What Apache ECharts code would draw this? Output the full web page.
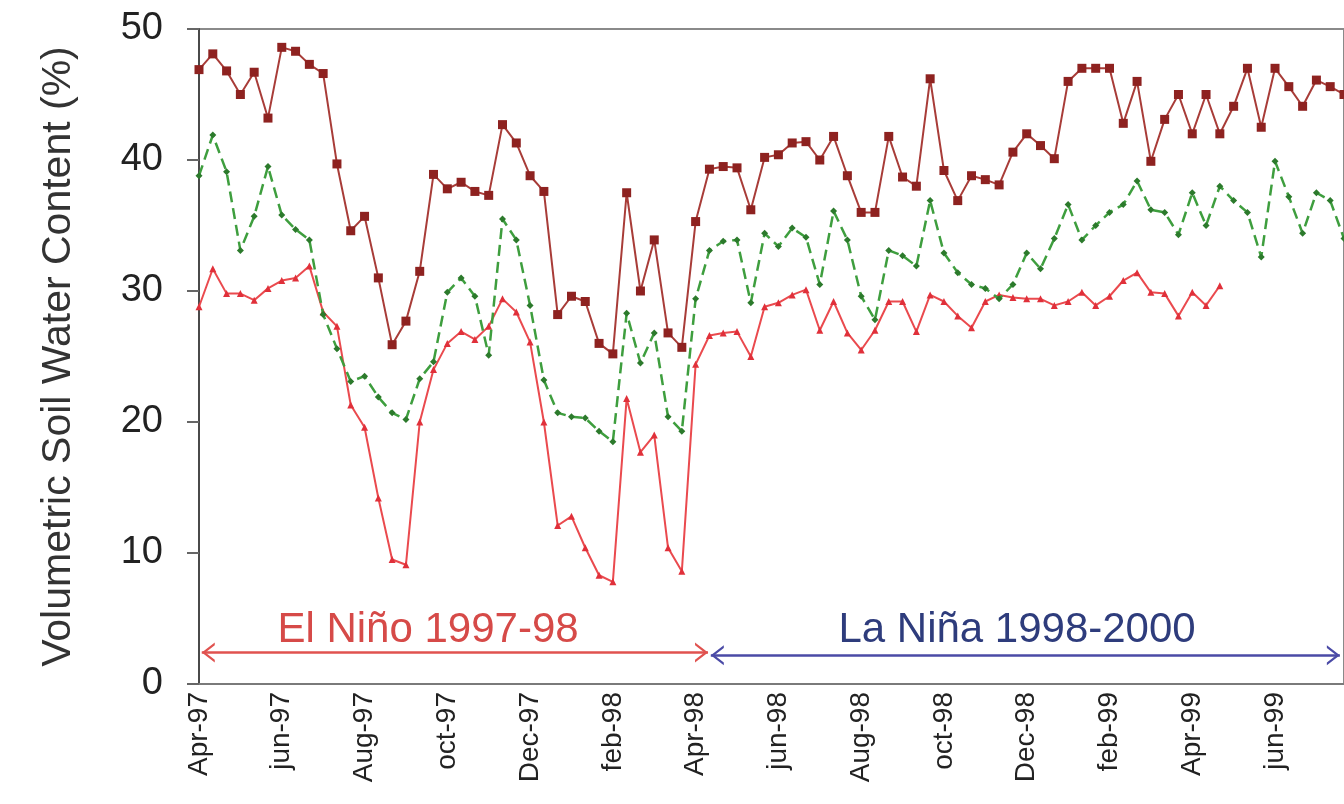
<!DOCTYPE html>
<html>
<head>
<meta charset="utf-8">
<script src="https://cdn.jsdelivr.net/npm/echarts@6/dist/echarts.min.js"></script>
<style>
  html, body { margin: 0; padding: 0; background: #fff; }
  #chart { width: 1344px; height: 804px; }
</style>
</head>
<body>
<div id="chart"></div>
<script>
// Soil water content, one reading per dekad (three per month) from early April 1997.
// Labelled ticks fall every two months (every 6th dekad).
const tickLabels = ['Apr-97', 'jun-97', 'Aug-97', 'oct-97', 'Dec-97', 'feb-98', 'Apr-98',
                    'jun-98', 'Aug-98', 'oct-98', 'Dec-98', 'feb-99', 'Apr-99', 'jun-99'];
const dekadsPerTick = 6;
const dekadCount = 84;

// Deepest / wettest profile (dark red, squares)
const deepLayer = [
  46.9, 48.1, 46.8, 45.0, 46.7, 43.2, 48.6, 48.3, 47.3, 46.6,
  39.7, 34.6, 35.7, 31.0, 25.9, 27.7, 31.5, 38.9, 37.8, 38.3,
  37.6, 37.3, 42.7, 41.3, 38.8, 37.6, 28.2, 29.6, 29.2, 26.0,
  25.2, 37.5, 30.0, 33.9, 26.8, 25.7, 35.3, 39.3, 39.5, 39.4,
  36.2, 40.2, 40.4, 41.3, 41.4, 40.0, 41.8, 38.8, 36.0, 36.0,
  41.8, 38.7, 38.0, 46.2, 39.2, 36.9, 38.8, 38.5, 38.1, 40.6,
  42.0, 41.1, 40.1, 46.0, 47.0, 47.0, 47.0, 42.8, 46.0, 39.9,
  43.1, 45.0, 42.0, 45.0, 42.0, 44.1, 47.0, 42.5, 47.0, 45.6,
  44.1, 46.1, 45.6, 45.0
];

// Middle profile (green, dashed)
const middleLayer = [
  38.8, 41.9, 39.1, 33.1, 35.7, 39.5, 35.8, 34.7, 33.9, 28.2,
  25.6, 23.1, 23.5, 21.9, 20.7, 20.2, 23.3, 24.6, 29.9, 31.0,
  29.6, 25.1, 35.5, 33.9, 28.9, 23.2, 20.7, 20.4, 20.3, 19.3,
  18.5, 28.3, 24.5, 26.8, 20.4, 19.3, 29.4, 33.1, 33.8, 33.9,
  29.1, 34.4, 33.4, 34.8, 34.1, 30.5, 36.1, 33.9, 29.6, 27.8,
  33.1, 32.7, 31.9, 36.9, 32.9, 31.4, 30.5, 30.2, 29.4, 30.5,
  32.9, 31.7, 34.0, 36.6, 33.9, 35.0, 36.0, 36.6, 38.4, 36.2,
  36.0, 34.3, 37.5, 35.0, 38.0, 36.9, 36.0, 32.6, 39.9, 37.2,
  34.4, 37.5, 36.9, 34.0
];

// Shallow profile (red, triangles)
const shallowLayer = [
  28.8, 31.7, 29.8, 29.8, 29.3, 30.2, 30.8, 31.0, 31.9, 28.4,
  27.3, 21.3, 19.6, 14.2,  9.5,  9.1, 20.0, 24.0, 26.0, 26.9,
  26.3, 27.3, 29.4, 28.4, 26.1, 20.0, 12.1, 12.8, 10.4,  8.3,
   7.8, 21.8, 17.7, 19.0, 10.4,  8.6, 24.4, 26.6, 26.8, 26.9,
  25.0, 28.8, 29.1, 29.7, 30.1, 27.0, 29.2, 26.8, 25.5, 27.0,
  29.2, 29.2, 26.9, 29.7, 29.2, 28.1, 27.2, 29.2, 29.7, 29.5,
  29.4, 29.4, 28.9, 29.2, 29.9, 28.9, 29.6, 30.8, 31.4, 29.9,
  29.8, 28.1, 29.9, 28.9, 30.4
];

// ENSO periods: [label, start dekad, end dekad, arrow level, label dekad, label level]
const ensoPeriods = [
  ['El Niño 1997-98', 0.2, 36.9, 2.4, 16.6, 4.1],
  ['La Niña 1998-2000', 37.1, 82.7, 2.2, 59.3, 4.1]
];
const ensoColors = { arrow: ['#e0524f', '#4a4aa6'], text: ['#d64a48', '#2e3c7c'] };

const toPoints = arr => arr.map((v, i) => [i, v]);

// open chevron arrowhead; the tiny first sub-path pads the box so the tip sits on the line end
const chevron = 'path://M10,0 L10.02,0.02 L10,0.04 Z M10,10 L20,20 L17.3,20 L10,12.8 L2.7,20 L0,20 Z';

const chart = echarts.init(document.getElementById('chart'));
chart.setOption({
  animation: false,
  backgroundColor: '#fff',
  textStyle: { fontFamily: 'Liberation Sans, Arial, sans-serif' },
  grid: {
    left: 199, right: -9, top: 29, bottom: 120,
    show: true, borderColor: '#8a8a8a', borderWidth: 2, backgroundColor: 'transparent'
  },
  xAxis: {
    type: 'value', min: 0, max: dekadCount - 1, interval: dekadsPerTick,
    axisLine: { show: true, onZero: false, lineStyle: { color: '#7a7a7a', width: 2 } },
    axisTick: { show: false },
    splitLine: { show: false },
    axisLabel: {
      rotate: 90, fontSize: 28, color: '#222', margin: 8,
      showMaxLabel: false, showMinLabel: true,
      formatter: v => tickLabels[Math.round(v / dekadsPerTick)] || ''
    }
  },
  yAxis: {
    type: 'value', min: 0, max: 50, interval: 10,
    name: 'Volumetric Soil Water Content (%)',
    nameLocation: 'middle', nameGap: 120,
    nameTextStyle: { fontSize: 41, color: '#333' },
    axisLine: { show: true, lineStyle: { color: '#4a4a4a', width: 2 } },
    axisTick: { show: true, inside: false, length: 12, lineStyle: { color: '#666', width: 2 } },
    splitLine: { show: false },
    axisLabel: { fontSize: 38, color: '#222', margin: 36 }
  },
  series: [
    {
      name: 'Deep layer', type: 'line', data: toPoints(deepLayer),
      symbol: 'rect', symbolSize: 9, showAllSymbol: true,
      lineStyle: { color: '#a83c38', width: 2 },
      itemStyle: { color: '#8e2220' },
      z: 4,
      markLine: {
        silent: true,
        symbol: [chevron, chevron], symbolSize: [20, 26],
        label: { show: false },
        data: ensoPeriods.map((p, k) => [
          { coord: [p[1], p[3]], lineStyle: { color: ensoColors.arrow[k], width: 2.5, type: 'solid' } },
          { coord: [p[2], p[3]] }
        ])
      },
      markPoint: {
        silent: true,
        symbol: 'rect', symbolSize: 0,
        data: ensoPeriods.map((p, k) => ({
          coord: [p[4], p[5]],
          label: {
            show: true, position: 'inside', formatter: p[0],
            fontSize: 42, color: ensoColors.text[k],
            fontFamily: 'Liberation Sans, Arial, sans-serif'
          }
        }))
      }
    },
    {
      name: 'Middle layer', type: 'line', data: toPoints(middleLayer),
      symbol: 'diamond', symbolSize: 7, showAllSymbol: true,
      lineStyle: { color: '#3e9e3e', width: 2.5, type: [11, 6] },
      itemStyle: { color: '#2c7a2c' },
      z: 3
    },
    {
      name: 'Surface layer', type: 'line', data: toPoints(shallowLayer),
      symbol: 'triangle', symbolSize: 7, showAllSymbol: true,
      lineStyle: { color: '#ea4a4e', width: 2 },
      itemStyle: { color: '#e0303a' },
      z: 2
    }
  ]
});
</script>
</body>
</html>
